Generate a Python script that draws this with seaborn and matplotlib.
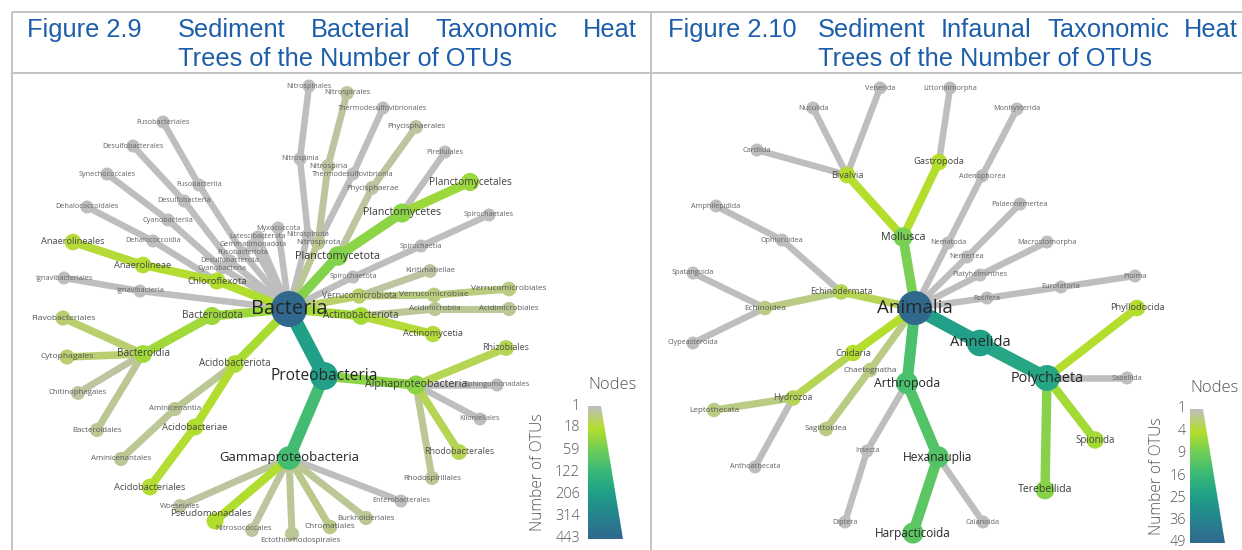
import numpy as np
import pandas as pd
import matplotlib
matplotlib.use("Agg")
import matplotlib.pyplot as plt
import seaborn as sns
from matplotlib.collections import LineCollection
from matplotlib.colors import LinearSegmentedColormap, to_rgb
from matplotlib.patches import Polygon

# ---------------- DATA ----------------
# Figure 2.9 : sediment bacterial taxa (name, parent, number of OTUs)
bac_names = [
    "Bacteria", "Proteobacteria", "Gammaproteobacteria", "Woeseiales", "Pseudomonadales",
    "Nitrosococcales", "Ectothiorhodospirales", "Chromatiales", "Burkholderiales",
    "Enterobacterales", "Alphaproteobacteria", "Rhizobiales", "Sphingomonadales",
    "Kiloniellales", "Rhodobacterales", "Rhodospirillales", "Acidobacteriota",
    "Acidobacteriae", "Acidobacteriales", "Aminicenantia", "Aminicenantales",
    "Bacteroidota", "Bacteroidia", "Flavobacteriales", "Cytophagales", "Chitinophagales",
    "Bacteroidales", "Ignavibacteria", "Ignavibacteriales", "Chloroflexota", "Anaerolineae",
    "Anaerolineales", "Dehalococcoidia", "Dehalococcoidales", "Cyanobacteria",
    "Cyanobacteriia", "Synechococcales", "Desulfobacterota", "Desulfobacteria",
    "Desulfobacterales", "Fusobacteriota", "Fusobacteriia", "Fusobacteriales",
    "Gemmatimonadota", "Latescibacterota", "Myxococcota", "Nitrospinota", "Nitrospinia",
    "Nitrospinales", "Nitrospirota", "Nitrospiria", "Nitrospirales",
    "Thermodesulfovibrionia", "Thermodesulfovibrionales", "Planctomycetota",
    "Planctomycetes", "Planctomycetales", "Pirellulales", "Phycisphaerae", "Phycisphaerales",
    "Spirochaetota", "Spirochaetia", "Spirochaetales", "Verrucomicrobiota", "Kiritimatiellae",
    "Verrucomicrobiae", "Verrucomicrobiales", "Actinobacteriota", "Acidimicrobiia",
    "Acidimicrobiales", "Actinomycetia",
]
bac_parents = [
    None, "Bacteria", "Proteobacteria", "Gammaproteobacteria", "Gammaproteobacteria",
    "Gammaproteobacteria", "Gammaproteobacteria", "Gammaproteobacteria", "Gammaproteobacteria",
    "Gammaproteobacteria", "Proteobacteria", "Alphaproteobacteria", "Alphaproteobacteria",
    "Alphaproteobacteria", "Alphaproteobacteria", "Alphaproteobacteria", "Bacteria",
    "Acidobacteriota", "Acidobacteriae", "Acidobacteriota", "Aminicenantia",
    "Bacteria", "Bacteroidota", "Bacteroidia", "Bacteroidia", "Bacteroidia",
    "Bacteroidia", "Bacteria", "Ignavibacteria", "Bacteria", "Chloroflexota",
    "Anaerolineae", "Chloroflexota", "Dehalococcoidia", "Bacteria",
    "Cyanobacteria", "Cyanobacteriia", "Bacteria", "Desulfobacterota",
    "Desulfobacteria", "Bacteria", "Fusobacteriota", "Fusobacteriia",
    "Bacteria", "Bacteria", "Bacteria", "Bacteria", "Nitrospinota",
    "Nitrospinia", "Bacteria", "Nitrospirota", "Nitrospiria",
    "Nitrospirota", "Thermodesulfovibrionia", "Bacteria",
    "Planctomycetota", "Planctomycetes", "Planctomycetes", "Planctomycetota", "Phycisphaerae",
    "Bacteria", "Spirochaetota", "Spirochaetia", "Bacteria", "Verrucomicrobiota",
    "Verrucomicrobiota", "Verrucomicrobiae", "Bacteria", "Actinobacteriota",
    "Acidimicrobiia", "Actinobacteriota",
]
bac_counts = [
    443, 196, 104, 3, 20,
    3, 4, 5, 4,
    1, 40, 12, 1,
    1, 12, 4, 24,
    20, 18, 4, 4,
    30, 28, 8, 8, 3,
    4, 1, 1, 20, 18,
    17, 1, 1, 1,
    1, 1, 1, 1,
    1, 1, 1, 1,
    1, 1, 1, 1, 1,
    1, 4, 3, 3,
    1, 1, 45,
    40, 30, 1, 3, 3,
    1, 1, 1, 9, 3,
    6, 6, 25, 4,
    4, 16,
]
bac_ticks = [1, 18, 59, 122, 206, 314, 443]

# Figure 2.10 : sediment infaunal taxa
ani_names = [
    "Animalia", "Mollusca", "Bivalvia", "Nuculida", "Venerida", "Cardiida", "Gastropoda",
    "Littorinimorpha", "Nematoda", "Adenophorea", "Monhysterida", "Nemertea",
    "Palaeonemertea", "Platyhelminthes", "Macrostomorpha", "Rotifera", "Eurotatoria",
    "Ploima", "Annelida", "Polychaeta", "Phyllodocida", "Sabellida", "Spionida",
    "Terebellida", "Arthropoda", "Hexanauplia", "Harpacticoida", "Calanoida", "Insecta",
    "Diptera", "Cnidaria", "Hydrozoa", "Leptothecata", "Anthoathecata", "Chaetognatha",
    "Sagittoidea", "Echinodermata", "Echinoidea", "Spatangoida", "Clypeasteroida",
    "Ophiuroidea", "Amphilepidida",
]
ani_parents = [
    None, "Animalia", "Mollusca", "Bivalvia", "Bivalvia", "Bivalvia", "Mollusca",
    "Gastropoda", "Animalia", "Nematoda", "Adenophorea", "Animalia",
    "Nemertea", "Animalia", "Platyhelminthes", "Animalia", "Rotifera",
    "Eurotatoria", "Animalia", "Annelida", "Polychaeta", "Polychaeta", "Polychaeta",
    "Polychaeta", "Animalia", "Arthropoda", "Hexanauplia", "Hexanauplia", "Arthropoda",
    "Insecta", "Animalia", "Cnidaria", "Hydrozoa", "Hydrozoa", "Animalia",
    "Chaetognatha", "Animalia", "Echinodermata", "Echinoidea", "Echinoidea",
    "Echinodermata", "Ophiuroidea",
]
ani_counts = [
    49, 8, 4, 1, 1, 1, 4,
    1, 1, 1, 1, 1,
    1, 1, 1, 1, 1,
    1, 24, 22, 4, 1, 5,
    7, 13, 12, 11, 1, 1,
    1, 4, 3, 2, 1, 2,
    2, 3, 2, 1, 1,
    1, 1,
]
ani_ticks = [1, 4, 9, 16, 25, 36, 49]

# ---------------- LAYOUT (pixel positions of tree nodes) ----------------
LAYOUT_BAC = {
    "Bacteria": (289, 309), "Proteobacteria": (324, 376), "Gammaproteobacteria": (289, 458),
    "Woeseiales": (180, 506), "Pseudomonadales": (215, 521), "Nitrosococcales": (252, 530),
    "Ectothiorhodospirales": (292, 534), "Chromatiales": (330, 527), "Burkholderiales": (366, 518),
    "Enterobacterales": (401, 501), "Alphaproteobacteria": (416, 385), "Rhizobiales": (506, 348),
    "Sphingomonadales": (497, 385), "Kiloniellales": (480, 419), "Rhodobacterales": (459, 452),
    "Rhodospirillales": (432, 478), "Acidobacteriota": (235, 364), "Acidobacteriae": (195, 427),
    "Acidobacteriales": (150, 487), "Aminicenantia": (175, 409), "Aminicenantales": (121, 459),
    "Bacteroidota": (212, 316), "Bacteroidia": (143, 354), "Flavobacteriales": (63, 318),
    "Cytophagales": (67, 357), "Chitinophagales": (78, 393), "Bacteroidales": (97, 430),
    "Ignavibacteria": (140, 291), "Ignavibacteriales": (64, 278), "Chloroflexota": (217, 281),
    "Anaerolineae": (143, 265), "Anaerolineales": (73, 242), "Dehalococcoidia": (153, 241),
    "Dehalococcoidales": (87, 207), "Cyanobacteria": (222, 268), "Cyanobacteriia": (168, 220),
    "Synechococcales": (107, 174), "Desulfobacterota": (230, 261), "Desulfobacteria": (184, 201),
    "Desulfobacterales": (133, 146), "Fusobacteriota": (243, 253), "Fusobacteriia": (199, 185),
    "Fusobacteriales": (163, 122), "Gemmatimonadota": (253, 245), "Latescibacterota": (258, 237),
    "Myxococcota": (278, 228), "Nitrospinota": (308, 235), "Nitrospinia": (300, 159),
    "Nitrospinales": (309, 86), "Nitrospirota": (318, 243), "Nitrospiria": (328, 166),
    "Nitrospirales": (347, 93), "Thermodesulfovibrionia": (353, 174),
    "Thermodesulfovibrionales": (383, 108), "Planctomycetota": (338, 256),
    "Planctomycetes": (402, 213), "Planctomycetales": (470, 182), "Pirellulales": (445, 152),
    "Phycisphaerae": (372, 188), "Phycisphaerales": (416, 127), "Spirochaetota": (353, 277),
    "Spirochaetia": (421, 246), "Spirochaetales": (489, 215), "Verrucomicrobiota": (359, 296),
    "Kiritimatiellae": (430, 271), "Verrucomicrobiae": (434, 295),
    "Verrucomicrobiales": (509, 289), "Actinobacteriota": (361, 316), "Acidimicrobiia": (435, 309),
    "Acidimicrobiales": (509, 309), "Actinomycetia": (433, 334),
}
LAYOUT_ANI = {
    "Animalia": (915, 308), "Mollusca": (903, 237), "Bivalvia": (847, 175), "Nuculida": (813, 108),
    "Venerida": (880, 88), "Cardiida": (757, 150), "Gastropoda": (939, 162),
    "Littorinimorpha": (950, 88), "Nematoda": (948, 243), "Adenophorea": (982, 176),
    "Monhysterida": (1017, 109), "Nemertea": (967, 257), "Palaeonemertea": (1020, 204),
    "Platyhelminthes": (980, 275), "Macrostomorpha": (1047, 242), "Rotifera": (987, 298),
    "Eurotatoria": (1061, 287), "Ploima": (1135, 276), "Annelida": (980, 343),
    "Polychaeta": (1047, 378), "Phyllodocida": (1137, 308), "Sabellida": (1127, 378),
    "Spionida": (1095, 440), "Terebellida": (1045, 490), "Arthropoda": (907, 383),
    "Hexanauplia": (938, 457), "Harpacticoida": (913, 533), "Calanoida": (983, 522),
    "Insecta": (867, 451), "Diptera": (845, 522), "Cnidaria": (853, 353), "Hydrozoa": (793, 398),
    "Leptothecata": (714, 410), "Anthoathecata": (755, 467), "Chaetognatha": (870, 370),
    "Sagittoidea": (826, 429), "Echinodermata": (841, 292), "Echinoidea": (765, 308),
    "Spatangoida": (693, 273), "Clypeasteroida": (693, 343), "Ophiuroidea": (782, 240),
    "Amphilepidida": (716, 206),
}
# small label nudges (pixels) where labels crowd each other
LABEL_NUDGE = {
    "Pseudomonadales": (-4, -7), "Nitrosococcales": (-8, -1), "Ectothiorhodospirales": (8, 6),
}

# ---------------- STYLE ----------------
sns.set_theme(style="white")
plt.rcParams["font.family"] = ["Open Sans", "DejaVu Sans"]

W, H = 1242, 550
PX = 72 / 100.0  # points per pixel
CMAP = LinearSegmentedColormap.from_list(
    "heat", ["#BEBEBE", "#B4DE2C", "#6DCD59", "#35B779", "#1F9E89", "#26828E", "#31688E"])
TITLE_BLUE = "#1D5EAA"
RULE = "#C4C4C4"

fig = plt.figure(figsize=(W / 100, H / 100), dpi=100)
ax = fig.add_axes([0, 0, 1, 1])


def draw_tree(names, parents, counts, layout, r_rng, f_rng):
    df = pd.DataFrame({"name": names, "parent": parents, "count": counts})
    df["x"] = [layout[n][0] for n in names]
    df["y"] = [layout[n][1] for n in names]
    smax = np.sqrt(df["count"].max())
    df["frac"] = (np.sqrt(df["count"]) - 1) / (smax - 1)
    df["r"] = r_rng[0] + (r_rng[1] - r_rng[0]) * df["frac"]
    df["area"] = (2 * df["r"] * PX) ** 2
    df = df.sort_values("count", kind="stable")

    segs, cols, lws = [], [], []
    for _, row in df.iterrows():
        if row["parent"] is None:
            continue
        segs.append([layout[row["parent"]], (row["x"], row["y"])])
        cols.append(CMAP(row["frac"]))
        lws.append(row["r"] * 1.0 * PX)
    ax.add_collection(LineCollection(segs, colors=cols, linewidths=lws,
                                     capstyle="round", zorder=1))

    sns.scatterplot(data=df, x="x", y="y", hue="frac", hue_norm=(0, 1), palette=CMAP,
                    size="area", sizes=(0, 10000), size_norm=(0, 10000),
                    linewidth=0, legend=False, ax=ax, zorder=2)

    dark = np.array(to_rgb("#262626"))
    light = np.array(to_rgb("#626262"))
    for _, row in df.iterrows():
        fpx = f_rng[0] + (f_rng[1] - f_rng[0]) * row["frac"]
        c = light + (dark - light) * min(1.0, row["frac"] * 2.5)
        dx, dy = LABEL_NUDGE.get(row["name"], (0, 0))
        ax.text(row["x"] + dx, row["y"] + dy, row["name"], ha="center", va="center",
                fontsize=fpx * PX, color=tuple(c), zorder=3)


def draw_legend(ticks, x_left, y_top, y_bot, w_top, w_bot, tick_x, title_xy, axis_x):
    grad = np.linspace(0, 1, 256).reshape(-1, 1)
    im = ax.imshow(grad, cmap=CMAP, extent=[x_left, x_left + w_bot, y_bot, y_top],
                   origin="upper", aspect="auto", zorder=3, interpolation="bilinear")
    poly = Polygon([(x_left, y_top), (x_left + w_top, y_top), (x_left + w_bot, y_bot),
                    (x_left, y_bot)], closed=True, facecolor="none", edgecolor="none")
    ax.add_patch(poly)
    im.set_clip_path(poly)
    smax = np.sqrt(max(ticks))
    for t in ticks:
        y = y_top + (np.sqrt(t) - 1) / (smax - 1) * (y_bot - y_top)
        ax.text(tick_x, y, str(t), ha="right", va="center", fontsize=14.5 * PX,
                color="#555555", fontweight="light", zorder=4)
    ax.text(title_xy[0], title_xy[1], "Nodes", ha="center", va="center",
            fontsize=16.5 * PX, color="#555555", fontweight="light", zorder=4)
    ax.text(axis_x, (y_top + y_bot) / 2, "Number of OTUs", ha="center", va="center",
            rotation=90, fontsize=15.5 * PX, color="#555555", fontweight="light", zorder=4)


draw_tree(bac_names, bac_parents, bac_counts, LAYOUT_BAC, (6.5, 18.0), (7.3, 20.0))
draw_tree(ani_names, ani_parents, ani_counts, LAYOUT_ANI, (6.5, 17.0), (7.3, 18.8))

draw_legend(bac_ticks, 588, 406, 539, 13, 35, 580, (612, 385), 538)
draw_legend(ani_ticks, 1190, 409, 543, 13, 35, 1186, (1214, 388), 1157)

# frame rules
for (x0, y0, x1, y1) in [(12, 12, W, 12), (12, 73, W, 73), (12, 12, 12, H), (651, 12, 651, H)]:
    ax.plot([x0, x1], [y0, y1], color=RULE, lw=2 * PX, solid_capstyle="butt", zorder=0)

# titles
tkw = dict(fontsize=25.4 * PX, color=TITLE_BLUE, family=["Liberation Sans", "DejaVu Sans"],
           va="baseline", ha="left")


def justified(words, x0, x1, y):
    texts = [ax.text(x0, y, w, **tkw) for w in words]
    fig.canvas.draw()
    rend = fig.canvas.get_renderer()
    widths = [t.get_window_extent(rend).width for t in texts]
    gap = (x1 - x0 - sum(widths)) / (len(words) - 1)
    x = x0
    for t, wd in zip(texts, widths):
        t.set_x(x)
        x += wd + gap


ax.set_xlim(0, W)
ax.set_ylim(H, 0)
ax.axis("off")

ax.text(27, 37, "Figure 2.9", **tkw)
justified(["Sediment", "Bacterial", "Taxonomic", "Heat"], 178, 637, 37)
ax.text(178, 66, "Trees of the Number of OTUs", **tkw)
ax.text(668, 37, "Figure 2.10", **tkw)
justified(["Sediment", "Infaunal", "Taxonomic", "Heat"], 818, 1238, 37)
ax.text(818, 66, "Trees of the Number of OTUs", **tkw)

ax.set_xlim(0, W)
ax.set_ylim(H, 0)
fig.savefig("out.png", dpi=100, facecolor="white")
